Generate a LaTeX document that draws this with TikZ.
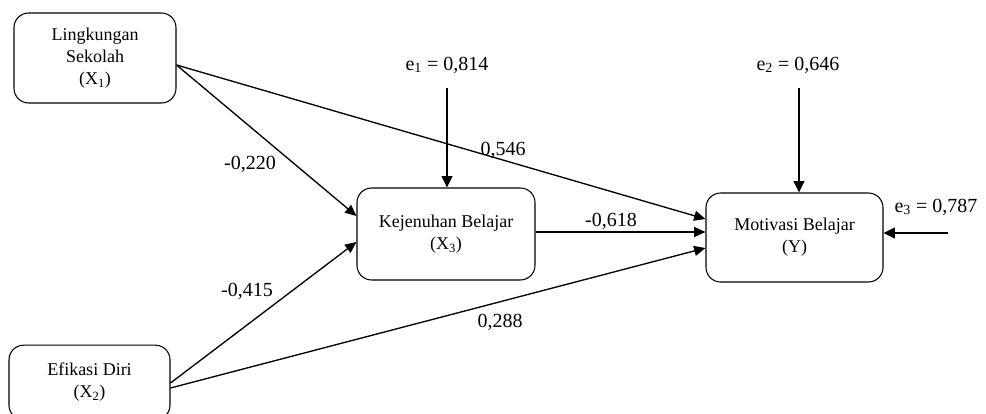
\documentclass[tikz,border=0pt]{standalone}
\usepackage{fontspec}
\setmainfont{Liberation Serif}
\usetikzlibrary{arrows.meta,calc}
\begin{document}
\begin{tikzpicture}[x=0.75pt,y=-0.75pt,
  box/.style={draw,line width=0.8pt,rounded corners=11pt,align=center,font=\fontsize{13.5}{16.5}\selectfont,inner sep=0pt},
  lab/.style={font=\fontsize{15}{18}\selectfont,inner sep=0pt},
  arr/.style={line width=1pt,-{Triangle[length=8.5pt,width=7.5pt]}},
  earr/.style={line width=1.3pt,-{Triangle[length=8.5pt,width=8pt]}}]
\useasboundingbox (0,0) rectangle (986,414);
\clip (0,0) rectangle (986,414);
\node[box,minimum width=121.5pt,minimum height=67.5pt] (X1) at (95,58) {Lingkungan\\Sekolah\\(X\textsubscript{1})};
\node[box,minimum width=120.75pt,minimum height=56pt] (X2) at (89.5,382.5) {Efikasi Diri\\(X\textsubscript{2})};
\node[box,minimum width=133.5pt,minimum height=69pt] (X3) at (446,234) {Kejenuhan Belajar\\(X\textsubscript{3})};
\node[box,minimum width=132.75pt,minimum height=66.75pt] (Y) at (794.5,237.5) {Motivasi Belajar\\(Y)};
\node[lab] (e1) at (447,65) {e\textsubscript{1} = 0,814};
\node[lab] (e2) at (798,65) {e\textsubscript{2} = 0,646};
\node[lab] (e3) at (936,207) {e\textsubscript{3} = 0,787};
\coordinate (e3s) at (948,233);
% connectors
\draw[arr] ($(X1.east)+(0,7)$) -- ($(X3.west)+(0,-18)$);
\draw[arr] ($(X1.east)+(0,7)$) -- ($(Y.west)+(0,-18.5)$);
\draw[arr] ($(X2.east)+(0,0.5)$) -- ($(X3.west)+(0,8)$);
\draw[arr] ($(X2.east)+(0,5.5)$) -- ($(Y.west)+(0,10.5)$);
\draw[arr] ($(X3.east)+(0,-2)$) -- ($(Y.west)+(0,-5.5)$);
\draw[earr] ($(e1.south)+(0,15)$) -- (e1.south |- X3.north);
\draw[earr] ($(e2.south)+(1,15)$) -- ($(e2.south |- Y.north)+(1,0)$);
\draw[earr] (e3s) -- (e3s -| Y.east);
% labels
\node[lab] (l1) at (250,164) {-0,220};
\node[lab] (l2) at (503,150) {0,546};
\node[lab] (l3) at (611,221) {-0,618};
\node[lab] (l4) at (247,291) {-0,415};
\node[lab] (l5) at (500,322) {0,288};
\end{tikzpicture}
\end{document}
